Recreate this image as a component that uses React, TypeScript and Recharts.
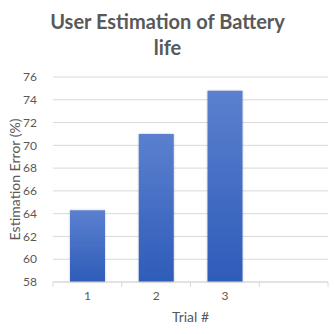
import React from 'react';
import { BarChart, Bar, XAxis, YAxis, CartesianGrid, Label } from 'recharts';

const trials = ['1', '2', '3', ''];
const errorPct = [64.3, 71.0, 74.8, null];
const yTicks = [58, 60, 62, 64, 66, 68, 70, 72, 74, 76];

const data = trials.map((t, i) => ({ trial: t, error: errorPct[i] }));

const FONT = 'Lato, "Open Sans", sans-serif';
const TEXT = '#595959';
const GRID = '#D9D9D9';

// Excel style: label under the band centre, tick marks on band boundaries
function TrialTick(props: any) {
  const { x, y, payload, index, visibleTicksCount } = props;
  const half = payload && payload.offset ? payload.offset : 34.4;
  const isLast = index === (visibleTicksCount ?? 4) - 1;
  return (
    <g>
      <line x1={x - half} x2={x - half} y1={y - 8} y2={y - 3} stroke={GRID} />
      {isLast && <line x1={x + half} x2={x + half} y1={y - 8} y2={y - 3} stroke={GRID} />}
      <text x={x} y={y + 10} textAnchor="middle" fill={TEXT} fontSize={12} fontFamily={FONT}>
        {payload.value}
      </text>
    </g>
  );
}

export default function App() {
  return (
    <div style={{ position: 'absolute', left: 0, top: 0, width: 335, height: 334, background: '#fff' }}>
      <div
        style={{
          position: 'absolute',
          left: 0,
          top: 8,
          width: 335,
          textAlign: 'center',
          fontFamily: FONT,
          fontWeight: 700,
          fontSize: 20,
          lineHeight: '26px',
          color: TEXT,
        }}
      >
        <div>User Estimation of Battery</div>
        <div>life</div>
      </div>
      <BarChart
        width={335}
        height={334}
        data={data}
        margin={{ top: 77, right: 7, bottom: 22, left: 13 }}
      >
        <defs>
          <linearGradient id="barFill" x1="0" y1="0" x2="0" y2="1">
            <stop offset="0%" stopColor="#5B80CF" />
            <stop offset="100%" stopColor="#2E5CB9" />
          </linearGradient>
          <filter id="barShadow" x="-20%" y="-5%" width="140%" height="110%">
            <feDropShadow dx="0" dy="0" stdDeviation="1.2" floodColor="#000" floodOpacity="0.25" />
          </filter>
        </defs>
        <CartesianGrid vertical={false} stroke={GRID} />
        <XAxis
          dataKey="trial"
          height={30}
          axisLine={{ stroke: GRID }}
          tickLine={false}
          tick={<TrialTick />}
          interval={0}
        >
          <Label value="Trial #" position="insideBottom" offset={-10} fill={TEXT} fontSize={14} fontFamily={FONT} />
        </XAxis>
        <YAxis
          width={40}
          domain={[58, 76]}
          ticks={yTicks}
          interval={0}
          axisLine={false}
          tickLine={false}
          tick={{ fill: TEXT, fontSize: 12, fontFamily: FONT }}
          tickMargin={10}
        >
          <Label
            value="Estimation Error (%)"
            angle={-90}
            position="insideLeft"
            offset={2}
            style={{ textAnchor: 'middle' }}
            fill={TEXT}
            fontSize={14}
            fontFamily={FONT}
          />
        </YAxis>
        <Bar dataKey="error" barSize={35} fill="url(#barFill)" filter="url(#barShadow)" isAnimationActive={false} />
      </BarChart>
    </div>
  );
}
